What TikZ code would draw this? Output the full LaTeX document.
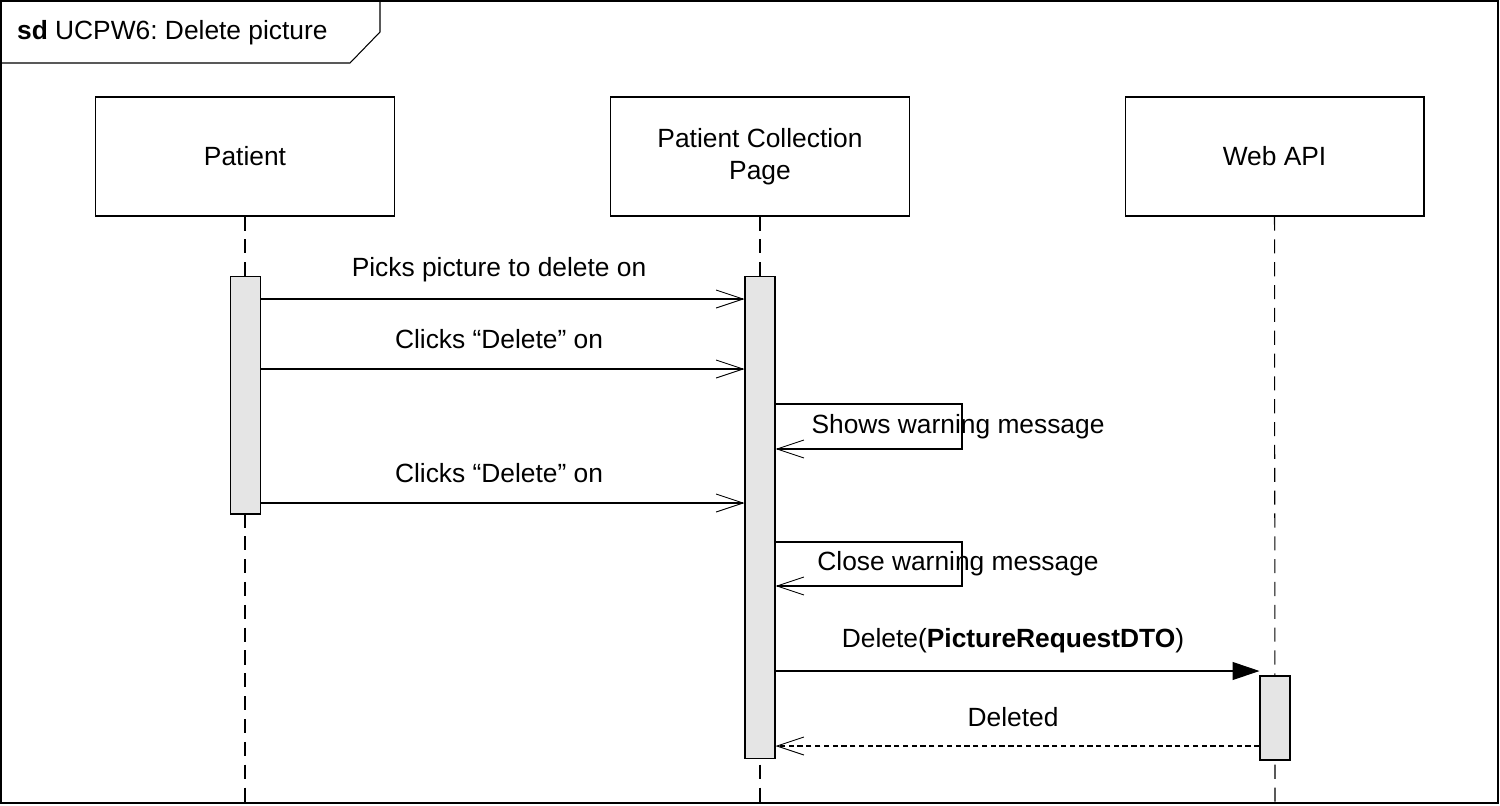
\documentclass[tikz,border=0pt]{standalone}
\usepackage{fontspec}
\setmainfont{Liberation Sans}
\usepackage{tikz}
\usetikzlibrary{arrows.meta, positioning, calc}
\frenchspacing

\begin{document}
\begin{tikzpicture}[
    x=0.02cm, y=-0.02cm,
    every node/.style={align=center, font=\fontsize{15}{18.2}\selectfont},
    head/.style={rectangle, draw, line width=0.6pt, minimum width=5.98cm, minimum height=2.38cm, inner sep=2pt},
    act/.style={rectangle, draw, line width=0.6pt, fill=black!10, minimum width=0.6cm, inner sep=0pt},
    life/.style={line width=0.6pt, dash pattern=on 8pt off 5pt},
    msg/.style={line width=0.6pt, -{Straight Barb[length=5.4mm, width=3.6mm, line width=0.5pt]}},
    call/.style={line width=0.6pt, -{Triangle[length=5.4mm, width=3.6mm]}},
    reply/.style={line width=0.6pt, dash pattern=on 3pt off 2pt, -{Straight Barb[length=5.4mm, width=3.6mm, line width=0.5pt]}},
    lbl/.style={inner sep=1pt}
]
\useasboundingbox (0,0) rectangle (1500,805);

% frame
\draw[line width=0.6pt] (1,1) rectangle (1498,803);
\draw[line width=0.6pt] (1,63) -- (350,63) -- (380,32) -- (380,1);
\node[lbl, anchor=west] (title) at (15,33) {\textbf{sd} UCPW6: Delete picture};

% lifeline heads
\node[head] (patient) at (245,156.5) {Patient};
\node[head] (page) at (760,156.5) {Patient Collection\\Page};
\node[head] (api) at (1274.5,156.5) {Web API};

% lifelines
\coordinate (patientEnd) at (245,803);
\coordinate (pageEnd) at (760,803);
\coordinate (apiEnd) at (1275,803);
\draw[life] (patient.south) -- (patientEnd);
\draw[life] (page.south) -- (pageEnd);
\draw[life] (api.south) -- (apiEnd);

% activations
\node[act, minimum height=4.76cm] (patientAct) at (245.5,395) {};
\node[act, minimum height=9.66cm] (pageAct) at (760,517.5) {};
\node[act, minimum height=1.68cm] (apiAct) at (1275,718) {};

% messages
\draw[msg] (patientAct.east |- 0,299) -- (pageAct.west |- 0,299);
\node[lbl] (m1) at (499,270) {Picks picture to delete on};

\draw[msg] (patientAct.east |- 0,369) -- (pageAct.west |- 0,369);
\node[lbl] (m2) at (499,339) {Clicks “Delete” on};

\draw[msg] (pageAct.east |- 0,404) -- (962,404) -- (962,449) -- (pageAct.east |- 0,449);
\node[lbl] (m3) at (958,427) {Shows warning message};

\draw[msg] (patientAct.east |- 0,503) -- (pageAct.west |- 0,503);
\node[lbl] (m4) at (499,473) {Clicks “Delete” on};

\draw[msg] (pageAct.east |- 0,542) -- (962,542) -- (962,586) -- (pageAct.east |- 0,586);
\node[lbl] (m5) at (958,564) {Close warning message};

\draw[call] (pageAct.east |- 0,671) -- (apiAct.west |- 0,671);
\node[lbl] (m6) at (1013,641) {Delete(\textbf{PictureRequestDTO})};

\draw[reply] (apiAct.west |- 0,746) -- (pageAct.east |- 0,746);
\node[lbl] (m7) at (1013,717) {Deleted};
\end{tikzpicture}
\end{document}
